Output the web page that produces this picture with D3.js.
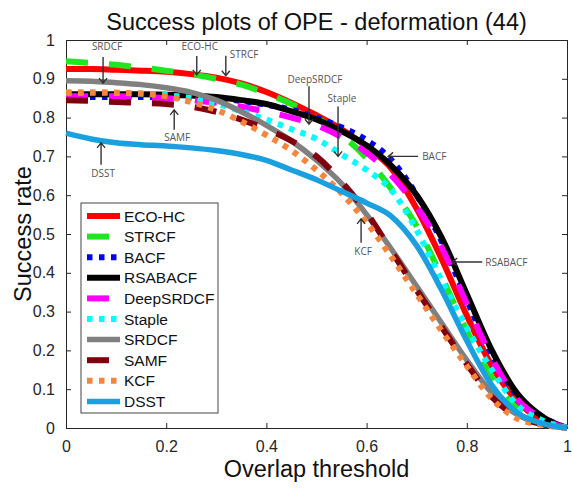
<!DOCTYPE html>
<html>
<head>
<meta charset="utf-8">
<script src="https://cdn.jsdelivr.net/npm/d3@7"></script>
<style>
  html, body { margin: 0; padding: 0; background: #fff; }
  svg { display: block; }
</style>
</head>
<body>
<svg id="chart" width="573" height="489"></svg>
<script>
// Overlap thresholds 0:0.05:1
const thresholds = d3.range(0, 21).map(i => i / 20);

const trackers = ["ECO-HC", "STRCF", "BACF", "RSABACF", "DeepSRDCF", "Staple", "SRDCF", "SAMF", "KCF", "DSST"];

const ecoHC     = [0.925,0.925,0.923,0.921,0.918,0.912,0.903,0.888,0.866,0.838,0.806,0.770,0.725,0.668,0.565,0.435,0.290,0.160,0.070,0.020,0.0];
const strcf     = [0.945,0.941,0.936,0.929,0.921,0.912,0.900,0.885,0.862,0.835,0.800,0.755,0.695,0.615,0.520,0.390,0.250,0.130,0.050,0.015,0.0];
const bacf      = [0.853,0.853,0.853,0.853,0.852,0.851,0.849,0.843,0.833,0.820,0.800,0.775,0.742,0.690,0.600,0.480,0.330,0.190,0.085,0.030,0.0];
const rsabacf   = [0.860,0.860,0.860,0.860,0.859,0.857,0.853,0.845,0.835,0.816,0.795,0.765,0.728,0.675,0.600,0.490,0.345,0.200,0.090,0.030,0.0];
const deepSRDCF = [0.855,0.855,0.855,0.853,0.850,0.845,0.838,0.828,0.815,0.800,0.780,0.750,0.710,0.650,0.570,0.465,0.320,0.180,0.075,0.025,0.0];
const staple    = [0.865,0.865,0.864,0.862,0.858,0.850,0.836,0.816,0.795,0.770,0.745,0.705,0.665,0.612,0.510,0.380,0.258,0.150,0.060,0.020,0.0];
const srdcf     = [0.895,0.894,0.890,0.885,0.877,0.865,0.845,0.815,0.780,0.740,0.690,0.630,0.550,0.460,0.365,0.270,0.175,0.090,0.035,0.010,0.0];
const samf      = [0.845,0.843,0.840,0.838,0.835,0.828,0.815,0.795,0.770,0.740,0.700,0.635,0.555,0.455,0.355,0.260,0.165,0.080,0.030,0.010,0.0];
const kcf       = [0.865,0.865,0.864,0.862,0.855,0.840,0.820,0.790,0.755,0.715,0.665,0.605,0.530,0.440,0.345,0.250,0.160,0.075,0.025,0.008,0.0];
const dsst      = [0.760,0.745,0.735,0.730,0.727,0.722,0.715,0.705,0.690,0.665,0.640,0.610,0.580,0.545,0.470,0.355,0.225,0.110,0.040,0.012,0.0];

const seriesValues = [ecoHC, strcf, bacf, rsabacf, deepSRDCF, staple, srdcf, samf, kcf, dsst];

const xTicks = [0, 0.2, 0.4, 0.6, 0.8, 1];
const xTickLabels = ["0", "0.2", "0.4", "0.6", "0.8", "1"];
const yTicks = [0, 0.1, 0.2, 0.3, 0.4, 0.5, 0.6, 0.7, 0.8, 0.9, 1];
const yTickLabels = ["0", "0.1", "0.2", "0.3", "0.4", "0.5", "0.6", "0.7", "0.8", "0.9", "1"];

// Callout labels: name, arrow tip in (threshold, success rate)
const calloutNames = ["SRDCF", "ECO-HC", "STRCF", "SAMF", "DSST", "DeepSRDCF", "Staple", "BACF", "RSABACF", "KCF"];
const calloutTips  = [[0.074,0.889],[0.261,0.910],[0.319,0.908],[0.216,0.820],[0.070,0.735],[0.485,0.783],[0.543,0.700],[0.643,0.700],[0.771,0.428],[0.589,0.539]];

// ---- styles ----
const colors = ["#ff0000", "#1fe61f", "#0000ff", "#000000", "#ff00ff", "#00ffff", "#808080", "#800010", "#f5853a", "#1a9fdf"];
const dashes = [null, "22,21", "5.5,6.5", null, "22,21", "5.5,6.5", null, "22,21", "5.5,6.5", null];
const widths = [6, 6, 6, 6, 6, 6, 5.5, 6, 6, 5.5];

// callout geometry (pixels): arrow direction and tail length, label offset
const calloutGeom = {
  "SRDCF":     { dir: "down", len: 26, lx: 4,  ly: -7,  anchor: "middle" },
  "ECO-HC":    { dir: "down", len: 19, lx: 3,  ly: -6,  anchor: "middle" },
  "STRCF":     { dir: "down", len: 20, lx: 4,  ly: 2,   anchor: "start" },
  "SAMF":      { dir: "up",   len: 20, lx: 3,  ly: 11,  anchor: "middle" },
  "DSST":      { dir: "up",   len: 22, lx: 2,  ly: 12,  anchor: "middle" },
  "DeepSRDCF": { dir: "down", len: 38, lx: 6,  ly: -3,  anchor: "middle" },
  "Staple":    { dir: "down", len: 50, lx: 4,  ly: -4,  anchor: "middle" },
  "BACF":      { dir: "left", len: 30, lx: 4,  ly: 4,   anchor: "start" },
  "RSABACF":   { dir: "left", len: 30, lx: 3,  ly: 4,   anchor: "start" },
  "KCF":       { dir: "up",   len: 24, lx: 2,  ly: 12,  anchor: "middle" }
};

const svg = d3.select("#chart");
const margin = { left: 66, right: 6, top: 40, bottom: 61 };
const W = 573, H = 489;
const x = d3.scaleLinear().domain([0, 1]).range([margin.left, W - margin.right]);
const y = d3.scaleLinear().domain([0, 1]).range([H - margin.bottom, margin.top]);
const axisColor = "#262626";
const fontMain = "'Liberation Sans', Arial, Helvetica, sans-serif";

// plot background
svg.append("rect").attr("x", x(0)).attr("y", y(1))
  .attr("width", x(1) - x(0)).attr("height", y(0) - y(1)).attr("fill", "#fff");

// axes with inward ticks
const axBottom = d3.axisBottom(x).tickValues(xTicks).tickSize(-5).tickPadding(13)
  .tickFormat((d, i) => xTickLabels[i]);
const axTop = d3.axisTop(x).tickValues(xTicks).tickSize(-5).tickFormat("");
const axLeft = d3.axisLeft(y).tickValues(yTicks).tickSize(-5).tickPadding(11)
  .tickFormat((d, i) => yTickLabels[i]);
const axRight = d3.axisRight(y).tickValues(yTicks).tickSize(-5).tickFormat("");

function styleAxis(g) {
  g.select(".domain").attr("stroke", axisColor).attr("stroke-width", 1);
  g.selectAll(".tick line").attr("stroke", axisColor).attr("stroke-width", 1);
  g.selectAll(".tick text").attr("fill", axisColor)
    .style("font-family", fontMain).style("font-size", "16px");
}
svg.append("g").attr("transform", `translate(0,${y(0)})`).call(axBottom).call(styleAxis);
svg.append("g").attr("transform", `translate(0,${y(1)})`).call(axTop).call(styleAxis);
svg.append("g").attr("transform", `translate(${x(0)},0)`).call(axLeft).call(styleAxis);
svg.append("g").attr("transform", `translate(${x(1)},0)`).call(axRight).call(styleAxis);

// success curves
const line = d3.line()
  .x((d, i) => x(thresholds[i]))
  .y(d => y(d))
  .curve(d3.curveMonotoneX);

const curves = svg.append("g").attr("class", "curves");
trackers.forEach((name, k) => {
  curves.append("path")
    .datum(seriesValues[k])
    .attr("d", line)
    .attr("fill", "none")
    .attr("stroke", colors[k])
    .attr("stroke-width", widths[k])
    .attr("stroke-dasharray", dashes[k])
    .attr("stroke-linejoin", "round");
});

// callout arrows
const calloutColor = "#333";
const callouts = svg.append("g").attr("class", "callouts");
calloutNames.forEach((name, i) => {
  const g = calloutGeom[name];
  const tx = x(calloutTips[i][0]), ty = y(calloutTips[i][1]);
  let sx = tx, sy = ty, hx1, hy1, hx2, hy2;
  const h = 5, hw = 4;
  if (g.dir === "down") { sy = ty - g.len; hx1 = tx - hw; hy1 = ty - h; hx2 = tx + hw; hy2 = ty - h; }
  if (g.dir === "up")   { sy = ty + g.len; hx1 = tx - hw; hy1 = ty + h; hx2 = tx + hw; hy2 = ty + h; }
  if (g.dir === "left") { sx = tx + g.len; hx1 = tx + h; hy1 = ty - hw; hx2 = tx + h; hy2 = ty + hw; }
  callouts.append("path")
    .attr("d", `M${sx},${sy}L${tx},${ty}M${hx1},${hy1}L${tx},${ty}L${hx2},${hy2}`)
    .attr("fill", "none").attr("stroke", calloutColor).attr("stroke-width", 1.4);
  callouts.append("text")
    .attr("x", sx + g.lx).attr("y", sy + g.ly)
    .attr("text-anchor", g.anchor)
    .attr("fill", "#555")
    .style("font-family", "'Open Sans', 'Noto Sans', sans-serif")
    .style("font-size", "10px")
    .text(name);
});

// legend
const legX = 81, legY = 203, legW = 137, legH = 210, rowH = 20.6;
const legend = svg.append("g").attr("class", "legend");
legend.append("rect").attr("x", legX).attr("y", legY).attr("width", legW).attr("height", legH)
  .attr("fill", "#fff").attr("stroke", "#444").attr("stroke-width", 1);
trackers.forEach((name, k) => {
  const cy = legY + 13 + k * rowH;
  const isDash = dashes[k] === "22,21";
  legend.append("line")
    .attr("x1", legX + 6).attr("x2", legX + (isDash ? 28 : 39))
    .attr("y1", cy).attr("y2", cy)
    .attr("stroke", colors[k]).attr("stroke-width", widths[k])
    .attr("stroke-dasharray", isDash ? null : dashes[k]);
  legend.append("text")
    .attr("x", legX + 43).attr("y", cy + 5.5)
    .attr("fill", "#111")
    .style("font-family", fontMain).style("font-size", "15.5px")
    .text(name);
});

// title and axis labels
svg.append("text").attr("x", (x(0) + x(1)) / 2).attr("y", 30)
  .attr("text-anchor", "middle").attr("fill", "#111")
  .style("font-family", fontMain).style("font-size", "23.5px")
  .text("Success plots of OPE - deformation (44)");
svg.append("text").attr("x", (x(0) + x(1)) / 2).attr("y", 477)
  .attr("text-anchor", "middle").attr("fill", "#111")
  .style("font-family", fontMain).style("font-size", "23.5px")
  .text("Overlap threshold");
svg.append("text")
  .attr("transform", `translate(31,${(y(0) + y(1)) / 2}) rotate(-90)`)
  .attr("text-anchor", "middle").attr("fill", "#111")
  .style("font-family", fontMain).style("font-size", "23.5px")
  .text("Success rate");
</script>
</body>
</html>
